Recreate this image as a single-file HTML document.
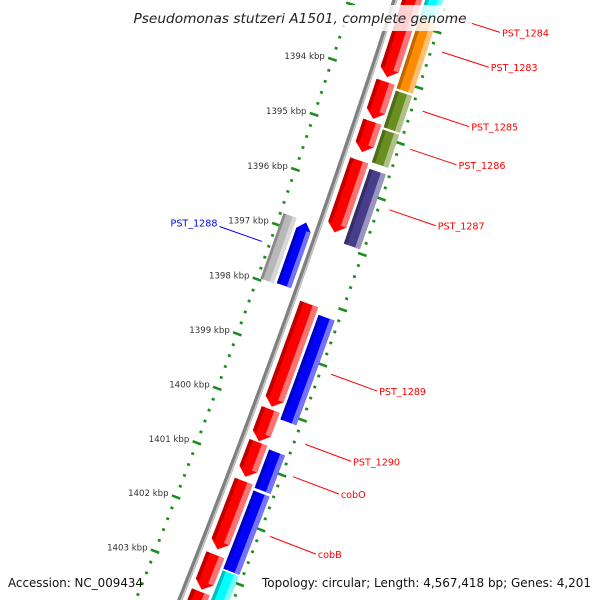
<!DOCTYPE html>
<html><head><meta charset="utf-8"><style>
html,body{margin:0;padding:0;background:#fff;width:600px;height:600px;overflow:hidden;}
svg{display:block;font-family:"DejaVu Sans","Liberation Sans",sans-serif;overflow:hidden;}
</style></head><body>
<svg id="map" width="600" height="600" viewBox="0 0 600 600" xmlns="http://www.w3.org/2000/svg">
<g id="ticks"></g>
<path id="backbone" fill="none" stroke="#808080" stroke-width="5"></path>
<path id="backbone-hi" fill="none" stroke="#c8c8c8" stroke-width="1.5"></path>
<g id="features"></g>
<g id="labels"></g>
<rect x="128" y="5" width="344" height="26" fill="#fff" fill-opacity="0.82"></rect>
<text x="300" y="23" text-anchor="middle" font-style="italic" font-size="13.5" fill="#222" textLength="333" lengthAdjust="spacingAndGlyphs">Pseudomonas stutzeri A1501, complete genome</text>
<text x="8" y="587" font-size="12" fill="#111" textLength="135" lengthAdjust="spacingAndGlyphs">Accession: NC_009434</text>
<text x="591" y="587" text-anchor="end" font-size="12" fill="#111" textLength="329" lengthAdjust="spacingAndGlyphs">Topology: circular; Length: 4,567,418 bp; Genes: 4,201</text>
</svg>
<script>
// ---- data (kbp) ----
const ring1Start = [1392.3, 1394.08, 1394.8, 1395.5, 1398.1, 1400.02, 1400.62, 1401.33, 1402.68, 1403.36];
const ring1End   = [1394.0, 1394.75, 1395.35, 1396.8, 1399.97, 1400.6, 1401.25, 1402.58, 1403.32, 1404.3];
const ring1Color = ["#ff0000","#ff0000","#ff0000","#ff0000","#ff0000","#ff0000","#ff0000","#ff0000","#ff0000","#ff0000"];
const ring2Start = [1392.0, 1392.87, 1394.17, 1394.87, 1395.58, 1398.22, 1400.67, 1401.42, 1402.88, 1403.52];
const ring2End   = [1392.84, 1394.13, 1394.83, 1395.46, 1396.93, 1400.12, 1401.37, 1402.85, 1403.5, 1404.3];
const ring2Color = ["#00ffff","#ff8c00","#6b8e23","#6b8e23","#483d8b","#0000ff","#0000ff","#0000ff","#00ffff","#483d8b"];
const innerStart = [1396.8];
const innerEnd   = [1397.95];
const grayStart  = [1396.78];
const grayEnd    = [1397.97];
const labelNames = ["PST_1284","PST_1283","PST_1285","PST_1286","PST_1287","PST_1289","PST_1290","cobO","cobB"];
const labelKbp   = [1392.68, 1393.3, 1394.36, 1395.04, 1396.13, 1399.1, 1400.37, 1400.96, 1402.05];
const innerLabelNames = ["PST_1288"];
const innerLabelKbp   = [1397.36];
const tickKbp = [1394,1395,1396,1397,1398,1399,1400,1401,1402,1403];
const tickLabels = ["1394 kbp","1395 kbp","1396 kbp","1397 kbp","1398 kbp","1399 kbp","1400 kbp","1401 kbp","1402 kbp","1403 kbp"];

// ---- geometry ----
const CX = -8534, CY = -2861, R = 9376;
const A0 = 18.23, DEG_PER_KBP = 0.3567, K0 = 1394;
const NS = "http://www.w3.org/2000/svg";
function ang(k){ return (A0 + (k - K0) * DEG_PER_KBP) * Math.PI / 180; }
function pt(k, r){ const a = ang(k); return [CX + r * Math.cos(a), CY + r * Math.sin(a)]; }
function arcPts(k1, k2, r, n){ const out=[]; for(let i=0;i<=n;i++){ out.push(pt(k1+(k2-k1)*i/n, r)); } return out; }
function mk(tag, parent, attrs){ const e=document.createElementNS(NS,tag); for(const k in attrs) e.setAttribute(k, attrs[k]); parent.appendChild(e); return e; }
function ptsStr(p){ return p.map(q=>q[0].toFixed(2)+","+q[1].toFixed(2)).join(" "); }
function shade(hex, f){ const n=parseInt(hex.slice(1),16); let r=n>>16,g=(n>>8)&255,b=n&255;
  if(f>0){ r=r+(255-r)*f; g=g+(255-g)*f; b=b+(255-b)*f; } else { r=r*(1+f); g=g*(1+f); b=b*(1+f); }
  return "rgb("+Math.round(r)+","+Math.round(g)+","+Math.round(b)+")"; }

// backbone
(function(){
  const p = arcPts(1391.5, 1404.8, R, 60);
  document.getElementById('backbone').setAttribute('d', "M" + p.map(q=>q[0].toFixed(2)+" "+q[1].toFixed(2)).join(" L"));
  const p2 = arcPts(1391.5, 1404.8, R+1.5, 60);
  document.getElementById('backbone-hi').setAttribute('d', "M" + p2.map(q=>q[0].toFixed(2)+" "+q[1].toFixed(2)).join(" L"));
})();

// ticks
const tg = document.getElementById('ticks');
const RIN = R - 41, ROUT = R + 50;
for (let k = 1391.6; k <= 1404.81; k += 0.2) {
  const kk = Math.round(k*10)/10;
  const major = Math.abs(kk - Math.round(kk)) < 1e-6;
  [RIN, ROUT].forEach(function(rr){
    const len = major ? 9 : 3;
    const a = pt(kk, rr - len/2), b = pt(kk, rr + len/2);
    const ln = mk('line', tg, {x1:a[0],y1:a[1],x2:b[0],y2:b[1],stroke:"#1e8c1e","stroke-width":2.6});
    
    
  });
}
tickKbp.forEach(function(k, i){
  const p = pt(k, RIN - 8);
  const t = mk('text', tg, {x:p[0].toFixed(1), y:(p[1]+2).toFixed(1), "text-anchor":"end", "font-size":"8.6", fill:"#333"});
  t.textContent = tickLabels[i];
  
  
});

// features
const fg = document.getElementById('features');
function feature(k1, k2, r1, r2, color, dir, arrow, name){
  const g = mk('g', fg, {});
  
  
  const ah = arrow ? 0.14 : 0;
  const rm = (r1+r2)/2;
  let b1 = k1, b2 = k2;
  if (arrow && dir > 0) b2 = k2 - ah;
  if (arrow && dir < 0) b1 = k1 + ah;
  let poly = arcPts(b1, b2, r2, 24);
  if (arrow && dir > 0) poly.push(pt(k2, rm));
  poly = poly.concat(arcPts(b2, b1, r1, 24));
  if (arrow && dir < 0) poly.push(pt(k1, rm));
  mk('polygon', g, {points: ptsStr(poly), fill: color});
  const w = r2 - r1;
  let s = arcPts(b1, b2, r2, 24).concat(arcPts(b2, b1, r2 - w*0.3, 24));
  mk('polygon', g, {points: ptsStr(s), fill: shade(color, 0.45)});
  s = arcPts(b1, b2, r1 + w*0.2, 24).concat(arcPts(b2, b1, r1, 24));
  mk('polygon', g, {points: ptsStr(s), fill: shade(color, -0.25)});
}
ring1Start.forEach(function(k, i){ feature(k, ring1End[i], R+7, R+26, ring1Color[i], 1, true, 'forward-gene-' + i); });
ring2Start.forEach(function(k, i){ feature(k, ring2End[i], R+29, R+46, ring2Color[i], 1, false, 'cog-feature-' + i); });
innerStart.forEach(function(k, i){ feature(k, innerEnd[i], R-21, R-6, "#0000ff", -1, true, 'reverse-gene-' + i); });
grayStart.forEach(function(k, i){ feature(k, grayEnd[i], R-38, R-24, "#b8b8b8", -1, false, 'other-feature-' + i); });

// labels
const lg = document.getElementById('labels');
labelNames.forEach(function(n, i){
  const a = pt(labelKbp[i], R+61), b = pt(labelKbp[i], R+110);
  const ln = mk('line', lg, {x1:a[0],y1:a[1],x2:b[0],y2:b[1],stroke:"#ff0000","stroke-width":1});
  
  
  const t = mk('text', lg, {x:(b[0]+2).toFixed(1), y:(b[1]+4).toFixed(1), "font-size":"9.6", fill:"#ff0000"});
  t.textContent = n;
  
  
});
innerLabelNames.forEach(function(n, i){
  const a = pt(innerLabelKbp[i], R-49), b = pt(innerLabelKbp[i], R-94);
  const ln = mk('line', lg, {x1:a[0],y1:a[1],x2:b[0],y2:b[1],stroke:"#0000ff","stroke-width":1});
  
  
  const t = mk('text', lg, {x:(b[0]-2).toFixed(1), y:(b[1]).toFixed(1), "text-anchor":"end", "font-size":"9.6", fill:"#0000ff"});
  t.textContent = n;
  
  
});
</script>
</body></html>
